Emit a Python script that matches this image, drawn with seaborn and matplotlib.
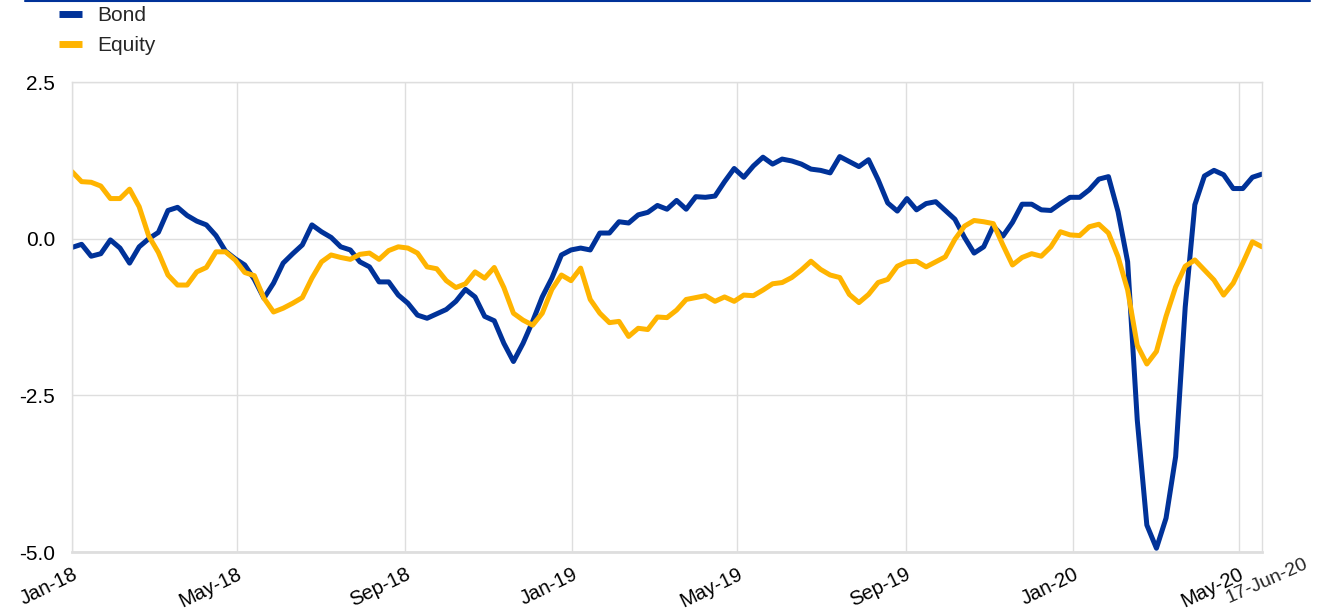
import pandas as pd
import numpy as np
import seaborn as sns
import matplotlib.pyplot as plt
import matplotlib.dates as mdates
from matplotlib.lines import Line2D
from matplotlib.ticker import FuncFormatter, FixedLocator

# weekly observations, first one in early Jan 2018
start_date = "2018-01-01"

bond = [
    -0.14, -0.09, -0.28, -0.24, -0.02, -0.15, -0.39, -0.13, 0.00, 0.10,
    0.45, 0.50, 0.37, 0.28, 0.22, 0.05, -0.20, -0.32, -0.42, -0.65,
    -0.95, -0.71, -0.39, -0.24, -0.10, 0.22, 0.11, 0.02, -0.13, -0.18,
    -0.37, -0.45, -0.69, -0.69, -0.90, -1.03, -1.22, -1.27, -1.20, -1.13,
    -1.00, -0.81, -0.93, -1.24, -1.31, -1.67, -1.96, -1.67, -1.32, -0.93,
    -0.63, -0.26, -0.18, -0.15, -0.18, 0.09, 0.09, 0.27, 0.25, 0.38,
    0.42, 0.53, 0.47, 0.61, 0.47, 0.67, 0.66, 0.68, 0.91, 1.12,
    0.98, 1.16, 1.30, 1.19, 1.27, 1.24, 1.19, 1.11, 1.09, 1.05,
    1.31, 1.23, 1.15, 1.26, 0.94, 0.57, 0.44, 0.64, 0.46, 0.56,
    0.59, 0.45, 0.31, 0.02, -0.23, -0.13, 0.20, 0.04, 0.26, 0.55,
    0.55, 0.46, 0.45, 0.56, 0.66, 0.66, 0.78, 0.95, 0.99, 0.43,
    -0.37, -2.89, -4.57, -4.94, -4.46, -3.48, -1.09, 0.54, 1.00, 1.09,
    1.02, 0.80, 0.80, 0.98, 1.03,
]

equity = [
    1.07, 0.91, 0.90, 0.84, 0.64, 0.64, 0.79, 0.51, 0.04, -0.22,
    -0.58, -0.74, -0.74, -0.53, -0.46, -0.21, -0.21, -0.34, -0.54, -0.59,
    -0.95, -1.17, -1.11, -1.03, -0.94, -0.63, -0.37, -0.26, -0.30, -0.33,
    -0.25, -0.23, -0.33, -0.19, -0.13, -0.15, -0.23, -0.45, -0.48, -0.67,
    -0.78, -0.72, -0.53, -0.63, -0.46, -0.78, -1.19, -1.30, -1.38, -1.19,
    -0.81, -0.58, -0.67, -0.47, -0.97, -1.19, -1.34, -1.32, -1.56, -1.43,
    -1.45, -1.25, -1.26, -1.14, -0.97, -0.94, -0.91, -1.00, -0.93, -1.00,
    -0.90, -0.91, -0.82, -0.72, -0.70, -0.62, -0.50, -0.36, -0.49, -0.58,
    -0.62, -0.89, -1.02, -0.89, -0.70, -0.65, -0.44, -0.37, -0.36, -0.45,
    -0.37, -0.29, -0.01, 0.20, 0.29, 0.27, 0.24, -0.10, -0.42, -0.30,
    -0.24, -0.28, -0.13, 0.11, 0.06, 0.05, 0.19, 0.23, 0.09, -0.29,
    -0.82, -1.70, -2.00, -1.80, -1.24, -0.77, -0.44, -0.34, -0.50, -0.66,
    -0.90, -0.71, -0.39, -0.05, -0.13,
]

series_names = ["Bond", "Equity"]
colors = ["#003299", "#ffb400"]

y_ticks = [-5.0, -2.5, 0.0, 2.5]
x_tick_dates = ["2018-01-01", "2018-05-01", "2018-09-01", "2019-01-01",
                "2019-05-01", "2019-09-01", "2020-01-01", "2020-05-01"]
last_label = "17-Jun-20"
last_label_date = "2020-06-17"

dates = pd.date_range(start_date, periods=len(bond), freq="7D")
df = pd.DataFrame({"date": dates, "Bond": bond, "Equity": equity})
long_df = df.melt(id_vars="date", var_name="series", value_name="value")

sns.set_theme(style="white")
plt.rcParams["font.family"] = ["Liberation Sans", "DejaVu Sans"]
plt.rcParams["axes.unicode_minus"] = False

fig = plt.figure(figsize=(13.18, 6.16), dpi=100)
ax = fig.add_axes([72 / 1318, 1 - 552 / 616, (1262 - 72) / 1318, (552 - 82) / 616])

sns.lineplot(data=long_df, x="date", y="value", hue="series",
             hue_order=series_names, palette=colors, linewidth=3.6,
             legend=False, ax=ax)

ax.set_ylim(-5.0, 2.5)
ax.set_xlim(dates[0], dates[-1])
ax.yaxis.set_major_locator(FixedLocator(y_ticks))
ax.yaxis.set_major_formatter(FuncFormatter(lambda v, p: f"{v:.1f}"))
ax.xaxis.set_major_locator(FixedLocator(mdates.date2num(pd.to_datetime(x_tick_dates))))
ax.xaxis.set_major_formatter(mdates.DateFormatter("%b-%y"))

ax.grid(True, color="#dedede", linewidth=1)
ax.set_axisbelow(True)
for side in ["left", "right", "top"]:
    ax.spines[side].set_color("#dedede")
    ax.spines[side].set_linewidth(1)
ax.spines["bottom"].set_color("#dedede")
ax.spines["bottom"].set_linewidth(2)

ax.tick_params(axis="both", length=0, colors="black")
ax.tick_params(axis="y", pad=12, labelsize=15)
ax.tick_params(axis="x", pad=9, labelsize=14.5)
for lbl in ax.get_xticklabels():
    lbl.set_rotation(26)
    lbl.set_ha("right")
    lbl.set_rotation_mode("anchor")
ax.set_xlabel("")
ax.set_ylabel("")

# last observation label sits past the end of the axis
ax.text(mdates.date2num(pd.Timestamp(last_label_date)), -0.008, last_label,
        transform=ax.get_xaxis_transform(), rotation=24, ha="right", va="top",
        rotation_mode="anchor", fontsize=14, clip_on=False)

# legend at top left
handles = [Line2D([0], [0], color=c, linewidth=5, solid_capstyle="butt") for c in colors]
fig.legend(handles, series_names, loc="upper left", bbox_to_anchor=(0.0387, 1.003),
           frameon=False, fontsize=15, handlelength=1.1, handletextpad=0.72,
           labelspacing=0.5, borderaxespad=0)

# thin blue rule along the top
fig.add_artist(Line2D([25 / 1318, 1310 / 1318], [0.999, 0.999], color="#003299",
                      linewidth=1.5, transform=fig.transFigure))

fig.savefig("out.png", dpi=100)
